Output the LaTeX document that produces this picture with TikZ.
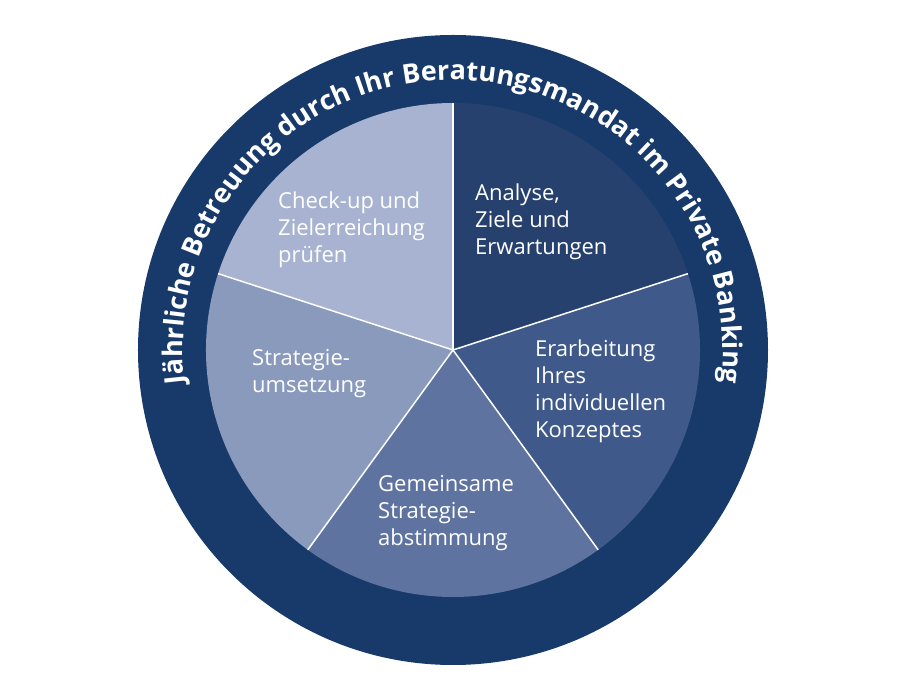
\documentclass[tikz,border=0pt]{standalone}
\usepackage{fontspec}
\setmainfont{Open Sans}
\usetikzlibrary{decorations.text}
\definecolor{ring}{HTML}{173A6A}
\definecolor{sA}{HTML}{27416F}
\definecolor{sB}{HTML}{3F5A8A}
\definecolor{sC}{HTML}{5E739F}
\definecolor{sD}{HTML}{8A9ABD}
\definecolor{sE}{HTML}{A7B3D0}
\newcommand{\arcfont}{\fontsize{27}{30}\selectfont\bfseries}
\tikzset{lbl/.style={text=white,align=left,anchor=north west,inner sep=0pt,font=\fontsize{22}{27}\selectfont}}
\begin{document}
\begin{tikzpicture}[x=1pt,y=1pt]
\useasboundingbox[fill=white] (-453,-350) rectangle (457,350);
\fill[ring] (0,0) circle[radius=315];
\def\R{247}
\fill[sA] (0,0) -- (90:\R) arc[start angle=90,end angle=18,radius=\R] -- cycle;
\fill[sB] (0,0) -- (18:\R) arc[start angle=18,end angle=-54,radius=\R] -- cycle;
\fill[sC] (0,0) -- (-54:\R) arc[start angle=-54,end angle=-126,radius=\R] -- cycle;
\fill[sD] (0,0) -- (-126:\R) arc[start angle=-126,end angle=-198,radius=\R] -- cycle;
\fill[sE] (0,0) -- (162:\R) arc[start angle=162,end angle=90,radius=\R] -- cycle;
\foreach \a in {90,18,-54,-126,162} \draw[white,line width=1.5] (0,0) -- (\a:\R);
\path[decorate,decoration={text along path,text align=center,text color=white,
 text={|\arcfont|Jährliche Betreuung durch Ihr Beratungsmandat im Private Banking}}]
 (200:270) arc[start angle=200,end angle=-20,radius=270];
\node[lbl] (a) at (22,166) {Analyse,\\Ziele und\\Erwartungen};
\node[lbl] (b) at (82,10) {Erarbeitung\\Ihres\\individuellen\\Konzeptes};
\node[lbl] (c) at (-75,-125) {Gemeinsame\\Strategie-\\abstimmung};
\node[lbl] (d) at (-201,1) {Strategie-\\umsetzung};
\node[lbl] (e) at (-175,158) {Check-up und\\Zielerreichung\\prüfen};
\end{tikzpicture}
\end{document}
